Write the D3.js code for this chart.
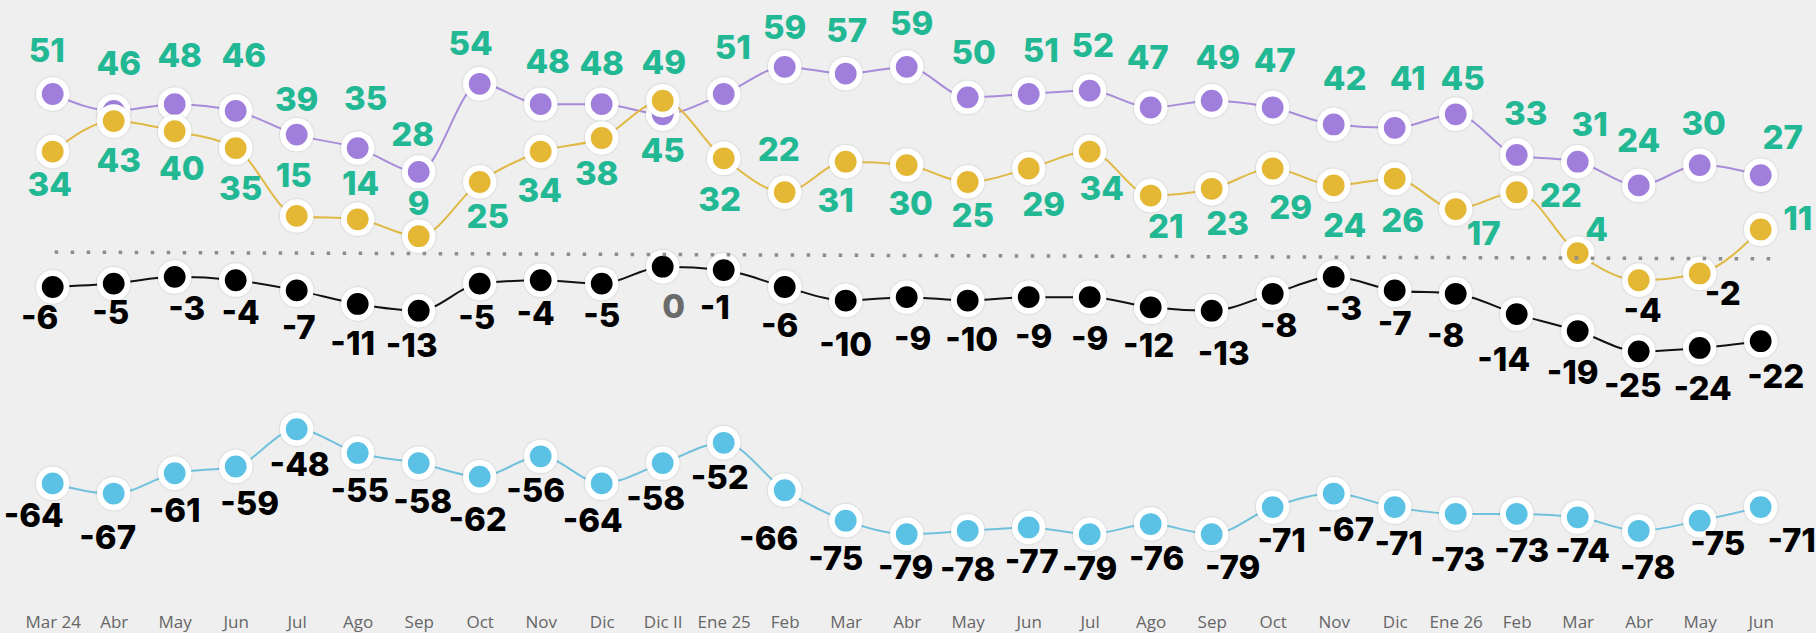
<!DOCTYPE html>
<html lang="es">
<head>
<meta charset="utf-8">
<script src="https://cdn.jsdelivr.net/npm/d3@7"></script>
<style>
  html, body { margin: 0; padding: 0; background: #efefef; }
  svg { display: block; }
</style>
</head>
<body>
<svg id="chart" width="1816" height="633"></svg>
<script>
// Months shown on the x axis (29 surveys)
const categories = ["Mar 24","Abr","May","Jun","Jul","Ago","Sep","Oct","Nov","Dic","Dic II","Ene 25","Feb","Mar","Abr","May","Jun","Jul","Ago","Sep","Oct","Nov","Dic","Ene 26","Feb","Mar","Abr","May","Jun"];

// Series values
const violeta  = [51,46,48,46,39,35,28,54,48,48,45,51,59,57,59,50,51,52,47,49,47,42,41,45,33,31,24,30,27];
const amarillo = [34,43,40,35,15,14,9,25,34,38,49,32,22,31,30,25,29,34,21,23,29,24,26,17,22,4,-4,-2,11];
const negro    = [-6,-5,-3,-4,-7,-11,-13,-5,-4,-5,0,-1,-6,-10,-9,-10,-9,-9,-12,-13,-8,-3,-7,-8,-14,-19,-25,-24,-22];
const celeste  = [-64,-67,-61,-59,-48,-55,-58,-62,-56,-64,-58,-52,-66,-75,-79,-78,-77,-79,-76,-79,-71,-67,-71,-73,-73,-74,-78,-75,-71];

// Reference line (value at its left and right end)
const referencia = [4.3, 2.3];

// Label nudges [dx, dy] from each point's centre to its label's centre
const violetaLabelPos  = [[-6,-44],[5,-48],[5,-49],[8,-56],[0,-36],[8,-50],[-6,-38],[-9,-41],[7,-43],[0,-41],[0,36],[9,-47],[0,-40],[1,-44],[5,-44],[6,-45],[12,-44],[3,-46],[-3,-51],[6,-44],[2,-48],[11,-46],[13,-50],[7,-36],[9,-42],[12,-38],[0,-45],[4,-42],[22,-38]];
const amarilloLabelPos = [[-3,32],[5,39],[7,37],[5,40],[-3,-41],[3,-36],[0,-33],[8,34],[-1,38],[-5,35],[1,-39],[-4,41],[-6,-43],[-10,38],[4,38],[5,33],[15,36],[12,36],[15,30],[16,34],[18,39],[11,40],[8,41],[28,24],[44,3],[19,-24],[4,30],[23,20],[37,-11]];
const negroLabelPos    = [[-13,30],[-3,28],[12,31],[5,32],[2,37],[-5,39],[-7,34],[-3,33],[-5,33],[0,31],[11,39],[-9,37],[-5,38],[0,43],[6,41],[4,38],[5,39],[0,41],[-2,38],[12,42],[6,31],[10,31],[0,33],[-10,41],[-13,45],[-5,41],[-6,34],[3,40],[15,35]];
const celesteLabelPos  = [[-19,32],[-6,43],[0,37],[14,37],[3,35],[2,37],[4,38],[-2,42],[-5,34],[-9,37],[-7,35],[-4,34],[-16,48],[-10,37],[-1,33],[0,38],[3,34],[0,34],[6,34],[21,33],[9,33],[12,35],[4,36],[2,45],[5,36],[5,33],[9,36],[18,22],[31,33]];

const series = [
  { values: violeta,  labels: violetaLabelPos,  dot: "#a07edb", line: "#a88bd9" },
  { values: amarillo, labels: amarilloLabelPos, dot: "#e4b735", line: "#e0b944" },
  { values: negro,    labels: negroLabelPos,    dot: "#000000", line: "#111111" },
  { values: celeste,  labels: celesteLabelPos,  dot: "#5bc2e5", line: "#6fc1dc" }
];

const svg = d3.select("#chart");

const x = d3.scalePoint()
  .domain(d3.range(categories.length))
  .range([52.7, 1760.7]);

const y = d3.scaleLinear()
  .domain([-80, 60])
  .range([537.6, 63.5]);

// soft edge around the white rings
const defs = svg.append("defs");
const f = defs.append("filter").attr("id", "ring").attr("x", "-50%").attr("y", "-50%").attr("width", "200%").attr("height", "200%");
f.append("feDropShadow").attr("dx", 0).attr("dy", 0).attr("stdDeviation", 0.9)
  .attr("flood-color", "#000").attr("flood-opacity", 0.22);

// x axis: labels only
const axis = d3.axisBottom(x)
  .tickSize(0)
  .tickFormat(i => categories[i]);
const gx = svg.append("g").attr("transform", "translate(0,628)").call(axis);
gx.select(".domain").remove();
gx.selectAll("text")
  .attr("y", 0).attr("dy", 0)
  .attr("fill", "#666")
  .style("font-family", "'Open Sans', sans-serif")
  .style("font-size", "17px");

const line = d3.line()
  .x((d, i) => x(i))
  .y(d => y(d))
  .curve(d3.curveMonotoneX);

const gLines = svg.append("g");
const gDots = svg.append("g");

series.forEach(s => {
  gLines.append("path")
    .datum(s.values)
    .attr("d", line)
    .attr("fill", "none")
    .attr("stroke", s.line)
    .attr("stroke-width", 2);
});

series.forEach(s => {
  gDots.append("g")
    .selectAll("circle")
    .data(s.values)
    .join("circle")
    .attr("cx", (d, i) => x(i))
    .attr("cy", d => y(d))
    .attr("r", 13.8)
    .attr("fill", s.dot)
    .attr("stroke", "#fff")
    .attr("stroke-width", 5.8)
    .attr("filter", "url(#ring)");
});

// dotted reference line
svg.append("line")
  .attr("x1", x(0) + 2)
  .attr("x2", x(categories.length - 1) + 22)
  .attr("y1", y(referencia[0]))
  .attr("y2", y(referencia[1]))
  .attr("stroke", "#8c8c8c")
  .attr("stroke-width", 3.5)
  .attr("stroke-dasharray", "3.5 12.5");

// value labels
const fontSize = 33;
const capHalf = fontSize * 0.727 / 2;
const labelColor = v => v > 0 ? "#22b894" : (v < 0 ? "#000" : "#6b6b6b");

const gLabels = svg.append("g")
  .style("font-family", "Inter, sans-serif")
  .style("font-weight", 800)
  .style("font-size", fontSize + "px")
  .attr("text-anchor", "middle");

series.forEach(s => {
  gLabels.append("g")
    .selectAll("text")
    .data(s.values)
    .join("text")
    .attr("x", (d, i) => x(i) + s.labels[i][0])
    .attr("y", (d, i) => y(d) + s.labels[i][1] + capHalf)
    .attr("fill", d => labelColor(d))
    .text(d => d);
});
</script>
</body>
</html>
